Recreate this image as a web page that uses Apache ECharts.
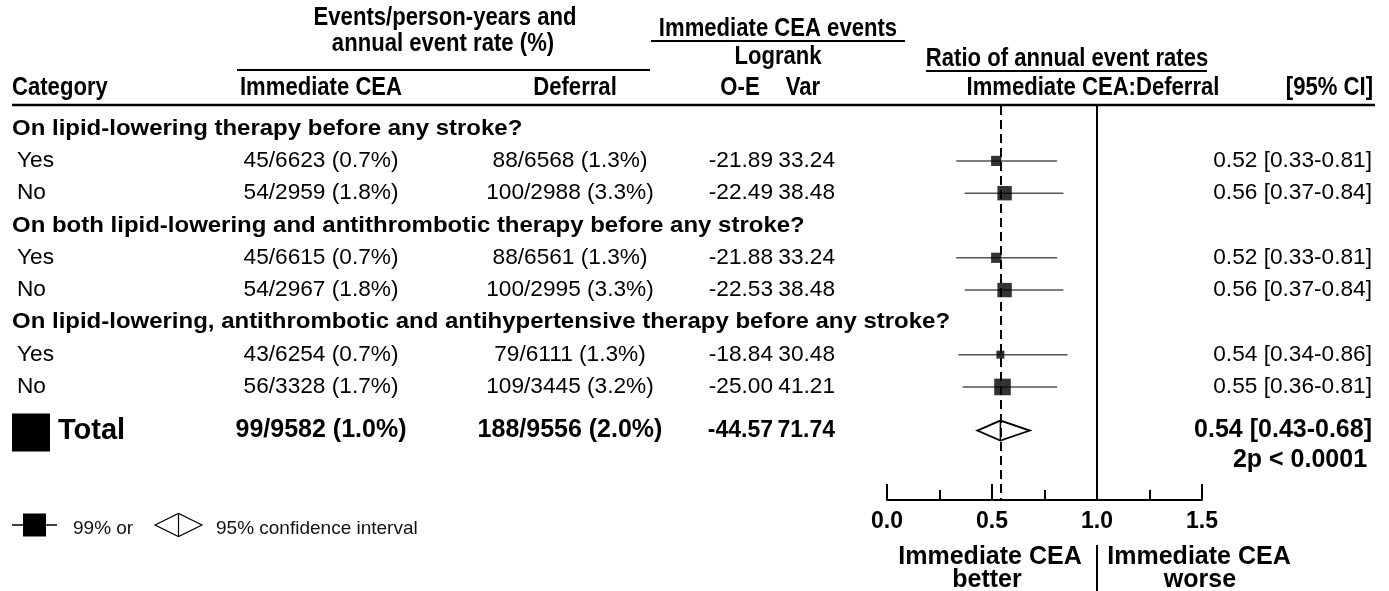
<!DOCTYPE html>
<html>
<head>
<meta charset="utf-8">
<title>Immediate CEA vs deferral, by therapy before any stroke</title>
<script src="https://cdn.jsdelivr.net/npm/echarts@6/dist/echarts.min.js"></script>
<style>
  html, body { margin: 0; padding: 0; background: #fff; }
  #main { width: 1389px; height: 591px; }
</style>
</head>
<body>
<div id="main"></div>
<script>
// questions (one heading row each), subgroups follow their question
var groupTitles = [
  'On lipid-lowering therapy before any stroke?',
  'On both lipid-lowering and antithrombotic therapy before any stroke?',
  'On lipid-lowering, antithrombotic and antihypertensive therapy before any stroke?'
];
var subgroupNames = ['Yes', 'No', 'Yes', 'No', 'Yes', 'No'];
var subgroupOf = [0, 0, 1, 1, 2, 2];

// events / person-years (annual rate %)
var ceaEvents = [45, 54, 45, 54, 43, 56];
var ceaPersonYears = [6623, 2959, 6615, 2967, 6254, 3328];
var ceaRate = ['0.7', '1.8', '0.7', '1.8', '0.7', '1.7'];
var defEvents = [88, 100, 88, 100, 79, 109];
var defPersonYears = [6568, 2988, 6561, 2995, 6111, 3445];
var defRate = ['1.3', '3.3', '1.3', '3.3', '1.3', '3.2'];

// logrank
var oMinusE = ['-21.89', '-22.49', '-21.88', '-22.53', '-18.84', '-25.00'];
var logrankVar = [33.24, 38.48, 33.24, 38.48, 30.48, 41.21];

// ratio of annual event rates and CI
var ratio = [0.52, 0.56, 0.52, 0.56, 0.54, 0.55];
var ciLow = [0.33, 0.37, 0.33, 0.37, 0.34, 0.36];
var ciHigh = [0.81, 0.84, 0.81, 0.84, 0.86, 0.81];

// total
var totalCea = [99, 9582, '1.0'];
var totalDef = [188, 9556, '2.0'];
var totalLogrank = ['-44.57', '71.74'];
var totalRatio = [0.54, 0.43, 0.68];
var totalP = '2p < 0.0001';

var xTicks = [0, 0.5, 1.0, 1.5];

var FONT = '"Liberation Sans", Arial, Helvetica, sans-serif';

// y positions (in row units) - heading, then its subgroups
var headerPos = [], rowPos = [];
var r = 0;
groupTitles.forEach(function (t, g) {
  headerPos.push(r);
  r++;
  subgroupOf.forEach(function (sg, i) {
    if (sg === g) { rowPos[i] = r; r++; }
  });
});
var totalPos = r + 0.35;

var chart = echarts.init(document.getElementById('main'));

var option = {
  animation: false,
  grid: { left: 887, width: 315, top: 106, height: 394 },
  xAxis: {
    type: 'value',
    position: 'bottom',
    min: xTicks[0],
    max: xTicks[xTicks.length - 1],
    interval: 0.5,
    axisLine: { show: true, onZero: false, lineStyle: { color: '#000', width: 2 } },
    axisTick: { show: true, inside: true, length: 16, lineStyle: { color: '#000', width: 2 } },
    minorTick: { show: true, splitNumber: 2, length: 10, lineStyle: { color: '#000', width: 2 } },
    splitLine: { show: false },
    minorSplitLine: { show: false },
    axisLabel: {
      color: '#000', fontFamily: FONT, fontWeight: 'bold', fontSize: 23, margin: 10,
      formatter: function (v) { return v.toFixed(1); }
    }
  },
  yAxis: { type: 'value', inverse: true, min: -0.7, max: 11.5, show: false },
  series: [
    {
      // CI lines
      type: 'custom',
      silent: true,
      data: ratio.map(function (v, i) { return [ciLow[i], ciHigh[i], rowPos[i]]; }),
      renderItem: function (params, api) {
        var a = api.coord([api.value(0), api.value(2)]);
        var b = api.coord([api.value(1), api.value(2)]);
        return {
          type: 'line',
          shape: { x1: a[0], y1: a[1], x2: b[0], y2: b[1] },
          style: { stroke: '#555', lineWidth: 1.5 }
        };
      },
      z: 2
    },
    {
      // point estimates, square size from logrank variance
      type: 'scatter',
      symbol: 'rect',
      silent: true,
      data: ratio.map(function (v, i) { return [v, rowPos[i], logrankVar[i]]; }),
      symbolSize: function (v) { return 8 + 0.8 * (v[2] - 30.48); },
      itemStyle: { color: '#000' },
      z: 3,
      markLine: {
        silent: true,
        symbol: 'none',
        label: { show: false },
        data: [
          { xAxis: 1, lineStyle: { color: '#000', width: 2, type: 'solid' } },
          { xAxis: totalRatio[0], lineStyle: { color: '#000', width: 2, type: [9, 5] } }
        ]
      }
    },
    {
      // total diamond
      type: 'custom',
      silent: true,
      data: [[totalRatio[0], totalRatio[1], totalRatio[2], totalPos]],
      renderItem: function (params, api) {
        var c = api.coord([api.value(0), api.value(3)]);
        var l = api.coord([api.value(1), api.value(3)]);
        var h = api.coord([api.value(2), api.value(3)]);
        var hh = 10;
        return {
          type: 'group',
          children: [
            {
              type: 'polygon',
              shape: { points: [[l[0], c[1]], [c[0], c[1] - hh], [h[0], c[1]], [c[0], c[1] + hh]] },
              style: { fill: '#fff', stroke: '#000', lineWidth: 1.8 }
            },
            {
              type: 'line',
              shape: { x1: c[0], y1: c[1] - hh, x2: c[0], y2: c[1] + hh },
              style: { stroke: '#000', lineWidth: 1.5 }
            }
          ]
        };
      },
      z: 4
    }
  ]
};
chart.setOption(option);

function txt(s, x, y, size, opts) {
  opts = opts || {};
  var align = opts.align || 'left';
  return {
    type: 'text', x: x, y: y, scaleX: opts.sx || 1, silent: true, z: 10,
    style: {
      text: s, x: 0, y: 0,
      fill: opts.color || '#000',
      font: (opts.bold ? 'bold ' : '') + size + 'px ' + FONT,
      align: align, textAlign: align,
      verticalAlign: 'middle', textVerticalAlign: 'middle'
    }
  };
}
function hline(x1, x2, y, w) {
  return { type: 'line', silent: true, shape: { x1: x1, y1: y, x2: x2, y2: y }, style: { stroke: '#000', lineWidth: w || 2 } };
}
function vline(x, y1, y2, w) {
  return { type: 'line', silent: true, shape: { x1: x, y1: y1, x2: x, y2: y2 }, style: { stroke: '#000', lineWidth: w || 2 } };
}
function rowY(pos) { return chart.convertToPixel({ yAxisIndex: 0 }, pos); }
function colX(v) { return chart.convertToPixel({ xAxisIndex: 0 }, v); }

// column anchors
var cCat = 12, cSub = 17, cCea = 321, cDef = 570, cOE = 773, cVar = 835, cCI = 1372;
// headers are a condensed bold face
var HS = 26, HX = 0.85;
var RS = 22, RX = 1.03;
var head = function (s, x, y, align) { return txt(s, x, y, HS, { bold: true, align: align, sx: HX }); };

var g = [];
// header block
g.push(head('Events/person-years and', 445, 18, 'center'));
g.push(head('annual event rate (%)', 443, 44, 'center'));
g.push(hline(237, 650, 70, 2));
g.push(head('Immediate CEA events', 778, 29, 'center'));
g.push(hline(651, 905, 41, 2));
g.push(head('Logrank', 778, 57, 'center'));
g.push(head('Ratio of annual event rates', 1067, 59, 'center'));
g.push(hline(926, 1207, 71, 2));
g.push(head('Category', cCat, 88, 'left'));
g.push(head('Immediate CEA', 321, 88, 'center'));
g.push(head('Deferral', 575, 88, 'center'));
g.push(head('O-E', 740, 88, 'center'));
g.push(head('Var', 803, 88, 'center'));
g.push(head('Immediate CEA:Deferral', 1093, 88, 'center'));
g.push(head('[95% CI]', 1373, 88, 'right'));
g.push(hline(12, 1375, 105, 2.5));

// question headings
groupTitles.forEach(function (t, i) {
  g.push(txt(t, cCat, rowY(headerPos[i]), 22, { bold: true, sx: 1.09 }));
});

// subgroup rows
subgroupNames.forEach(function (name, i) {
  var y = rowY(rowPos[i]);
  g.push(txt(name, cSub, y, RS, { sx: RX }));
  g.push(txt(ceaEvents[i] + '/' + ceaPersonYears[i] + ' (' + ceaRate[i] + '%)', cCea, y, RS, { align: 'center', sx: RX }));
  g.push(txt(defEvents[i] + '/' + defPersonYears[i] + ' (' + defRate[i] + '%)', cDef, y, RS, { align: 'center', sx: RX }));
  g.push(txt(oMinusE[i], cOE, y, RS, { align: 'right', sx: RX }));
  g.push(txt(logrankVar[i].toFixed(2), cVar, y, RS, { align: 'right', sx: RX }));
  g.push(txt(ratio[i].toFixed(2) + ' [' + ciLow[i].toFixed(2) + '-' + ciHigh[i].toFixed(2) + ']', cCI, y, RS, { align: 'right', sx: RX }));
});

// total row
var ty = rowY(totalPos);
g.push({ type: 'rect', silent: true, shape: { x: 12, y: ty - 17, width: 38, height: 38 }, style: { fill: '#000' } });
g.push(txt('Total', 58, ty, 29, { bold: true }));
g.push(txt(totalCea[0] + '/' + totalCea[1] + ' (' + totalCea[2] + '%)', cCea, ty, 25, { bold: true, align: 'center' }));
g.push(txt(totalDef[0] + '/' + totalDef[1] + ' (' + totalDef[2] + '%)', cDef, ty, 25, { bold: true, align: 'center' }));
g.push(txt(totalLogrank[0], cOE, ty, 23, { bold: true, align: 'right' }));
g.push(txt(totalLogrank[1], cVar, ty, 23, { bold: true, align: 'right' }));
g.push(txt(totalRatio[0].toFixed(2) + ' [' + totalRatio[1].toFixed(2) + '-' + totalRatio[2].toFixed(2) + ']', cCI, ty, 25, { bold: true, align: 'right' }));
g.push(txt(totalP, 1300, ty + 30, 25, { bold: true, align: 'center' }));

// below the axis: direction labels and separator
var x1 = colX(1);
g.push(vline(x1, 545, 591, 2));
g.push(txt('Immediate CEA', 990, 557, 25, { bold: true, align: 'center' }));
g.push(txt('better', 987, 580, 25, { bold: true, align: 'center' }));
g.push(txt('Immediate CEA', 1199, 557, 25, { bold: true, align: 'center' }));
g.push(txt('worse', 1200, 580, 25, { bold: true, align: 'center' }));

// key
g.push(hline(12, 57, 525, 1.5));
g.push({ type: 'rect', silent: true, shape: { x: 23, y: 513.5, width: 23, height: 23 }, style: { fill: '#000' } });
g.push(txt('99% or', 73, 529, 19, { color: '#111' }));
g.push({ type: 'polygon', silent: true, shape: { points: [[155, 525], [178.5, 513.5], [202, 525], [178.5, 536.5]] }, style: { fill: '#fff', stroke: '#000', lineWidth: 1.2 } });
g.push(vline(178.5, 513.5, 536.5, 1.2));
g.push(txt('95% confidence interval', 216, 529, 19, { color: '#111' }));

chart.setOption({ graphic: { elements: g } });
</script>
</body>
</html>
